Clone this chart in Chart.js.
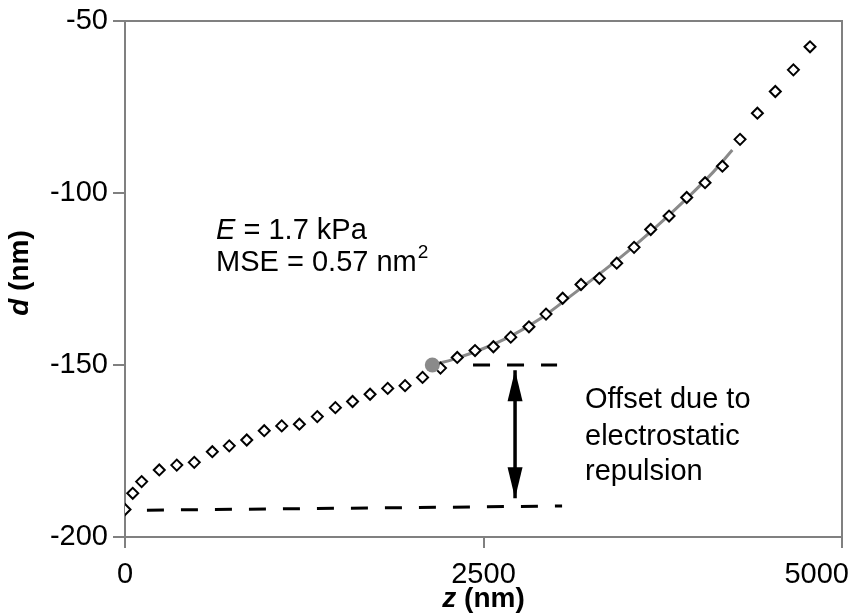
<!DOCTYPE html>
<html lang="en">
<head>
    <meta charset="UTF-8">
    <title>Indentation fit</title>
    <script src="https://cdn.jsdelivr.net/npm/chart.js"></script>
    <style>
        html, body { margin: 0; padding: 0; background: #fff; }
        #wrap { width: 852px; height: 613px; }
    </style>
</head>
<body>
    <div id="wrap"><canvas id="fitChart"></canvas></div>

    <script>
        // measured deflection d vs piezo position z
        const zValues = [0, 54, 116, 239, 361, 483, 609, 727, 849, 971,
            1093, 1216, 1341, 1467, 1587, 1709, 1832, 1953, 2075, 2200,
            2317, 2441, 2569, 2690, 2817, 2936, 3052, 3180, 3308, 3429,
            3550, 3666, 3794, 3917, 4045, 4166, 4289, 4410, 4535, 4661, 4777];
        const dValues = [-192.0, -187.3, -183.9, -180.5, -179.1, -178.3, -175.2, -173.5, -171.8, -169.1,
            -167.7, -167.2, -165.0, -162.4, -160.6, -158.5, -156.8, -156.0, -153.6, -150.9,
            -147.8, -145.8, -144.7, -141.9, -138.9, -135.2, -130.6, -126.6, -124.8, -120.4,
            -115.8, -110.6, -106.7, -101.3, -97.0, -92.2, -84.4, -76.8, -70.5, -64.2, -57.5];

        // Hertz fit curve
        const fitZ = [2143, 2300, 2500, 2700, 2900, 3100, 3300, 3500, 3700, 3900, 4100, 4235];
        const fitD = [-150.0, -148.2, -145.2, -141.4, -136.4, -130.2, -123.8, -117.2, -110.0, -102.3, -94.0, -87.5];

        // contact point
        const contactZ = [2143];
        const contactD = [-150.0];

        // offset guide lines and arrow
        const upperGuideZ = [2427, 3013];
        const upperGuideD = [-150.0, -150.0];
        const lowerGuideZ = [153, 3048];
        const lowerGuideD = [-192.2, -191.0];
        const arrowZ = [2720, 2720];
        const arrowD = [-151.5, -188.7];

        const xTicks = [0, 2500, 5000];
        const yTicks = [-200, -150, -100, -50];

        const toPoints = (xs, ys) => xs.map((x, i) => ({ x: x, y: ys[i] }));

        const FONT = "'Liberation Sans', Arial, sans-serif";
        const AXIS_GREY = '#808080';

        // frame, arrow heads, x tick labels, axis titles and notes
        const extras = {
            id: 'extras',
            afterDraw(chart) {
                const ctx = chart.ctx;
                const xs = chart.scales.x;
                const ys = chart.scales.y;
                const area = chart.chartArea;

                // top and right frame
                ctx.save();
                ctx.strokeStyle = AXIS_GREY;
                ctx.lineWidth = 2;
                ctx.beginPath();
                ctx.moveTo(area.left, area.top);
                ctx.lineTo(area.right, area.top);
                ctx.lineTo(area.right, area.bottom);
                ctx.stroke();

                // arrow heads
                const ax = xs.getPixelForValue(arrowZ[0]);
                const top = ys.getPixelForValue(arrowD[0]);
                const bot = ys.getPixelForValue(arrowD[1]);
                ctx.fillStyle = '#000';
                ctx.beginPath();
                ctx.moveTo(ax, top);
                ctx.lineTo(ax - 7.5, top + 31);
                ctx.lineTo(ax + 7.5, top + 31);
                ctx.closePath();
                ctx.fill();
                ctx.beginPath();
                ctx.moveTo(ax, bot);
                ctx.lineTo(ax - 7.5, bot - 31);
                ctx.lineTo(ax + 7.5, bot - 31);
                ctx.closePath();
                ctx.fill();

                ctx.fillStyle = '#000';
                ctx.textBaseline = 'middle';
                ctx.textAlign = 'left';

                // x tick labels, kept inside the canvas
                ctx.font = '29px ' + FONT;
                xTicks.forEach(v => {
                    const label = String(v);
                    const lw = ctx.measureText(label).width;
                    let lx = xs.getPixelForValue(v) - lw / 2;
                    lx = Math.min(lx, chart.width - lw - 3);
                    ctx.fillText(label, lx, 575);
                });

                // fit notes
                const nx = xs.getPixelForValue(635);
                let y1 = ys.getPixelForValue(-111.0);
                ctx.font = 'italic 29px ' + FONT;
                ctx.fillText('E', nx, y1);
                let w = ctx.measureText('E').width;
                ctx.font = '29px ' + FONT;
                ctx.fillText(' = 1.7 kPa', nx + w, y1);

                let y2 = ys.getPixelForValue(-120.4);
                ctx.fillText('MSE = 0.57 nm', nx, y2);
                w = ctx.measureText('MSE = 0.57 nm').width;
                ctx.font = '19px ' + FONT;
                ctx.fillText('2', nx + w + 1, y2 - 10);

                // offset note
                ctx.font = '29px ' + FONT;
                const ox = xs.getPixelForValue(3208);
                ctx.fillText('Offset due to', ox, ys.getPixelForValue(-160.2));
                ctx.fillText('electrostatic', ox, ys.getPixelForValue(-170.9));
                ctx.fillText('repulsion', ox, ys.getPixelForValue(-181.1));

                // x title
                ctx.font = 'bold italic 28px ' + FONT;
                const zw = ctx.measureText('z').width;
                ctx.font = 'bold 28px ' + FONT;
                const rw = ctx.measureText(' (nm)').width;
                const cx = (area.left + area.right) / 2;
                let sx = cx - (zw + rw) / 2;
                ctx.font = 'bold italic 28px ' + FONT;
                ctx.fillText('z', sx, 599);
                ctx.font = 'bold 28px ' + FONT;
                ctx.fillText(' (nm)', sx + zw, 599);

                // y title
                ctx.translate(20, (area.top + area.bottom) / 2 - 6);
                ctx.rotate(-Math.PI / 2);
                ctx.font = 'bold italic 28px ' + FONT;
                const dw = ctx.measureText('d').width;
                sx = -(dw + rw) / 2;
                ctx.fillText('d', sx, 0);
                ctx.font = 'bold 28px ' + FONT;
                ctx.fillText(' (nm)', sx + dw, 0);
                ctx.restore();
            }
        };

        const ctx = document.getElementById('fitChart').getContext('2d');
        new Chart(ctx, {
            type: 'scatter',
            data: {
                datasets: [
                    {
                        label: 'fit',
                        type: 'line',
                        data: toPoints(fitZ, fitD),
                        borderColor: '#8a8a8a',
                        borderWidth: 3,
                        pointRadius: 0,
                        tension: 0.4,
                        fill: false,
                        order: 2
                    },
                    {
                        label: 'data',
                        data: toPoints(zValues, dValues),
                        pointStyle: 'rectRot',
                        pointRadius: 5.5,
                        pointBorderWidth: 2,
                        pointBorderColor: '#000',
                        pointBackgroundColor: '#fff',
                        order: 1
                    },
                    {
                        label: 'contact',
                        data: toPoints(contactZ, contactD),
                        pointStyle: 'circle',
                        pointRadius: 7.5,
                        pointBorderWidth: 0,
                        pointBackgroundColor: '#8a8a8a',
                        order: 0
                    },
                    {
                        label: 'upper guide',
                        type: 'line',
                        data: toPoints(upperGuideZ, upperGuideD),
                        borderColor: '#000',
                        borderWidth: 3,
                        borderDash: [17, 17],
                        pointRadius: 0
                    },
                    {
                        label: 'lower guide',
                        type: 'line',
                        data: toPoints(lowerGuideZ, lowerGuideD),
                        borderColor: '#000',
                        borderWidth: 3,
                        borderDash: [17, 17],
                        pointRadius: 0
                    },
                    {
                        label: 'offset',
                        type: 'line',
                        data: toPoints(arrowZ, arrowD),
                        borderColor: '#000',
                        borderWidth: 3.5,
                        pointRadius: 0
                    }
                ]
            },
            options: {
                responsive: true,
                maintainAspectRatio: false,
                animation: false,
                layout: { padding: { top: 21, right: 10, left: 0, bottom: 0 } },
                plugins: {
                    legend: { display: false },
                    tooltip: { enabled: false }
                },
                scales: {
                    x: {
                        type: 'linear',
                        min: 0,
                        max: 5000,
                        afterBuildTicks: (scale) => { scale.ticks = xTicks.map(v => ({ value: v })); },
                        afterFit: (scale) => {
                            scale.height = 76;
                            scale.paddingLeft = 0;
                            scale.paddingRight = 0;
                        },
                        border: { color: AXIS_GREY, width: 2 },
                        grid: { drawOnChartArea: false, color: AXIS_GREY, lineWidth: 2, tickLength: 11 },
                        ticks: { display: false }
                    },
                    y: {
                        type: 'linear',
                        min: -200,
                        max: -50,
                        afterBuildTicks: (scale) => { scale.ticks = yTicks.map(v => ({ value: v })); },
                        afterFit: (scale) => {
                            scale.width = 125;
                            scale.paddingTop = 0;
                            scale.paddingBottom = 0;
                        },
                        border: { color: AXIS_GREY, width: 2 },
                        grid: { drawOnChartArea: false, color: AXIS_GREY, lineWidth: 2, tickLength: 12 },
                        ticks: {
                            color: '#000',
                            font: { family: FONT, size: 29 },
                            padding: 5,
                            callback: (v) => String(v)
                        }
                    }
                }
            },
            plugins: [extras]
        });
    </script>
</body>
</html>
